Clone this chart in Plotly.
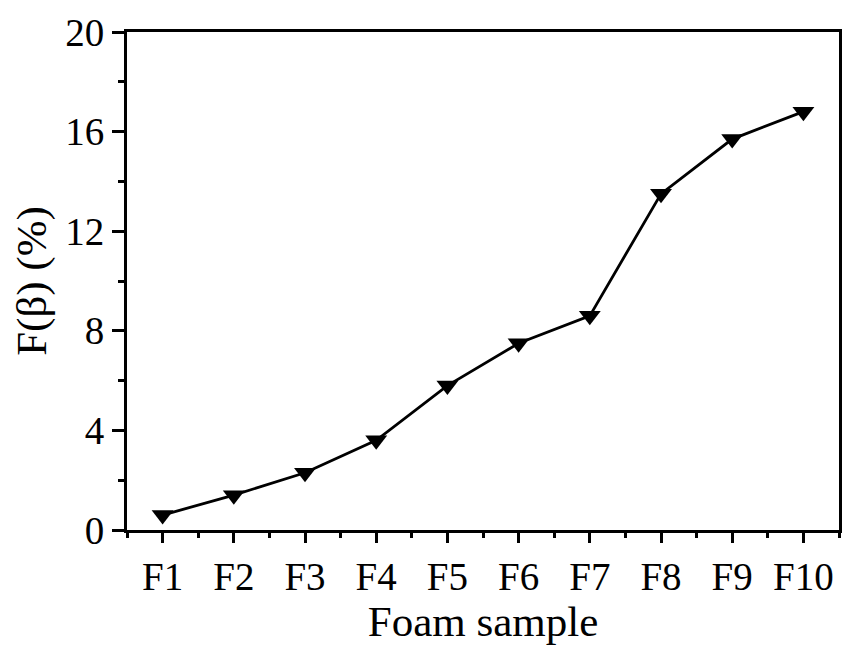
import plotly.graph_objects as go

samples = ["F1", "F2", "F3", "F4", "F5", "F6", "F7", "F8", "F9", "F10"]
f_beta = [0.6, 1.4, 2.3, 3.6, 5.8, 7.5, 8.6, 13.5, 15.7, 16.8]
y_ticks = [0, 4, 8, 12, 16, 20]

xpos = list(range(1, len(samples) + 1))

fig = go.Figure()
fig.add_trace(go.Scatter(
    x=xpos, y=f_beta, mode="lines+markers",
    line=dict(color="black", width=2.8),
    marker=dict(symbol="triangle-down", size=19, color="black"),
    showlegend=False,
))

font_family = "Liberation Serif"
fig.update_layout(
    width=845, height=648,
    margin=dict(l=127, r=3, t=32, b=118),
    paper_bgcolor="white", plot_bgcolor="white",
    font=dict(family=font_family, color="black"),
)
fig.update_xaxes(
    range=[0.5, len(samples) + 0.5],
    tickvals=xpos, ticktext=samples,
    ticks="outside", ticklen=10, tickwidth=3, tickcolor="black",
    minor=dict(tickvals=[i + 0.5 for i in range(0, len(samples) + 1)],
               ticks="outside", ticklen=5, tickwidth=3, tickcolor="black"),
    showline=True, linewidth=3, linecolor="black", mirror=True,
    showgrid=False, zeroline=False,
    tickfont=dict(size=39, family=font_family),
    title=dict(text="Foam sample", font=dict(size=43, family=font_family), standoff=4),
)
fig.update_yaxes(
    range=[0, 20],
    tickvals=y_ticks,
    ticks="outside", ticklen=12, tickwidth=3, tickcolor="black",
    minor=dict(dtick=2, tick0=0, ticks="outside", ticklen=6, tickwidth=3, tickcolor="black"),
    showline=True, linewidth=3, linecolor="black", mirror=True,
    showgrid=False, zeroline=False,
    tickfont=dict(size=39, family=font_family),
    title=dict(text="F(β) (%)", font=dict(size=43, family=font_family), standoff=6),
)

fig.write_html("out.html", config={"displayModeBar": False},
               post_script="document.body.style.margin='0';")
